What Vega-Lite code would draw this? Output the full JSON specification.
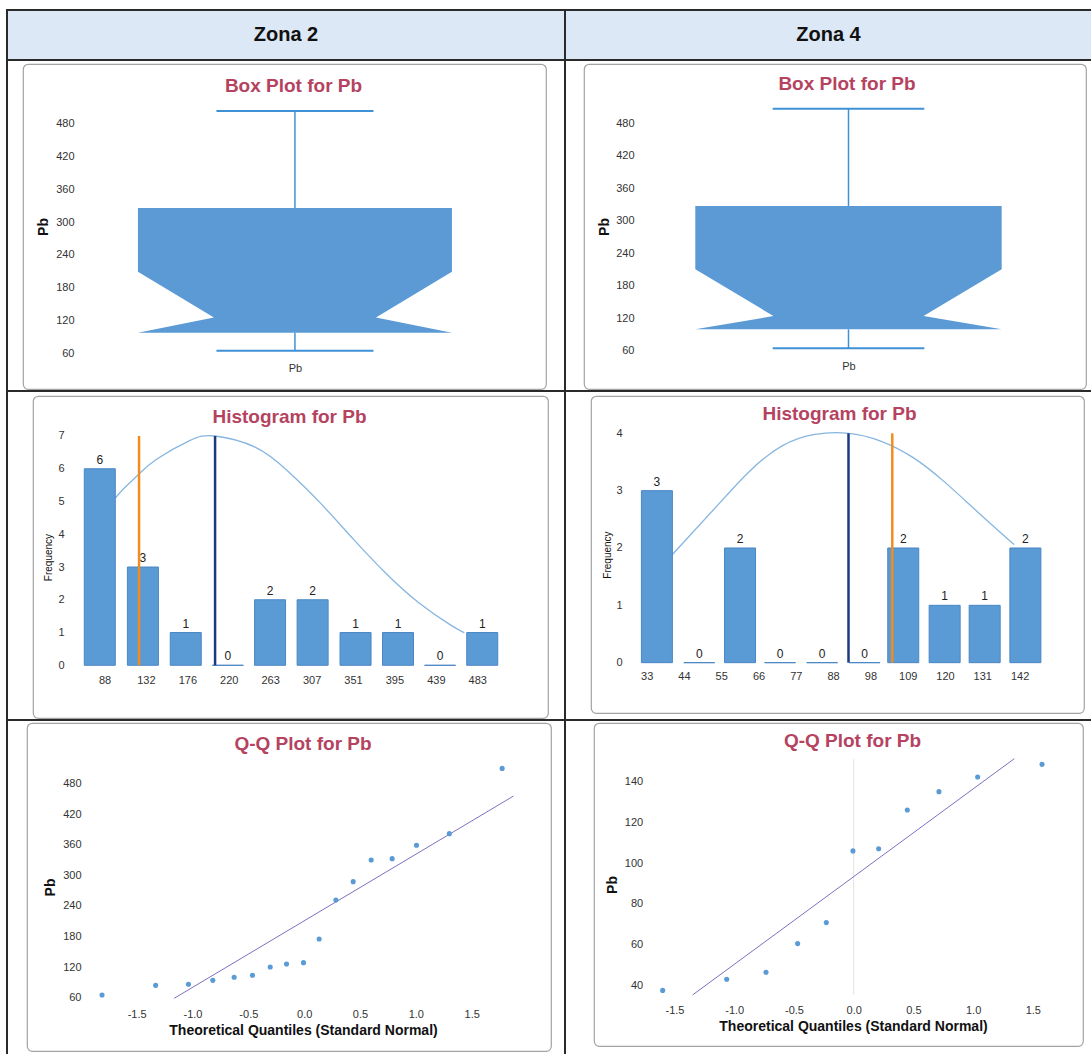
{
  "$schema": "https://vega.github.io/schema/vega-lite/v6.json",
  "padding": {"left": 6, "top": 9, "right": 0, "bottom": 0},
  "background": "white",
  "config": {
    "view": {"stroke": null},
    "locale": {"number": {"decimal": ".", "thousands": ",", "grouping": [3], "currency": ["$", ""], "minus": "-"}},
    "axis": {"grid": false, "domain": false, "ticks": false, "tickSize": 0, "labelFlush": false,
      "labelFont": "Liberation Sans Narrow, Liberation Sans, Arial", "labelFontSize": 11, "labelColor": "#333333",
      "titleFont": "Liberation Sans, Arial", "titleColor": "#111111"},
    "title": {"font": "Liberation Sans, Arial", "fontSize": 19, "fontWeight": "bold", "color": "#b5435f", "frame": "group", "anchor": "middle"}
  },
  "spacing": 0,
  "hconcat": [
    {"width": 2, "height": 1045, "data": {"values": []}, "mark": "point", "encoding": {}, "view": {"fill": "#2a2a2a", "stroke": null}},
    {
      "spacing": 0,
      "vconcat": [
        {"width": 556, "height": 2, "data": {"values": []}, "mark": "point", "encoding": {}, "view": {"fill": "#2a2a2a", "stroke": null}},
        {"width": 556, "height": 48, "view": {"fill": "#dce8f5", "stroke": null},
         "data": {"values": [{"zona": "Zona 2"}]},
         "mark": {"type": "text", "font": "Liberation Sans, Arial", "fontSize": 20, "fontWeight": "bold", "color": "#111111"},
         "encoding": {"text": {"field": "zona", "type": "nominal"}}},
        {"width": 556, "height": 2, "data": {"values": []}, "mark": "point", "encoding": {}, "view": {"fill": "#2a2a2a", "stroke": null}},
        {"spacing": 0, "hconcat": [
          {"width": 14, "height": 329, "data": {"values": []}, "mark": "point", "encoding": {}},
          {"spacing": 0, "vconcat": [
            {"width": 1, "height": 2, "data": {"values": []}, "mark": "point", "encoding": {}},
            {
              "width": 523, "height": 325,
              "view": {"fill": "white", "stroke": "#a3a3a3", "strokeWidth": 1.2, "cornerRadius": 5},
              "title": {"text": "Box Plot for Pb", "offset": -32, "dx": 9},
              "layer": [
                {"data": {"values": [{"pb": 97, "left": -1, "right": 1}, {"pb": 125, "left": -0.516, "right": 0.516}, {"pb": 209, "left": -1, "right": 1}, {"pb": 326, "left": -1, "right": 1}]},
                 "mark": {"type": "area", "orient": "horizontal", "color": "#5b9ad5", "opacity": 1},
                 "encoding": {
                   "y": {"field": "pb", "type": "quantitative", "scale": {"domain": [-6, 590], "nice": false, "zero": false},
                     "axis": {"values": [60, 120, 180, 240, 300, 360, 420, 480], "title": "Pb", "titleFontSize": 14, "titleFontWeight": "bold", "offset": -61, "labelPadding": 10, "minExtent": 27, "maxExtent": 27, "titlePadding": 7}},
                   "x": {"field": "left", "type": "quantitative", "scale": {"domain": [-1.732, 1.599], "nice": false, "zero": false},
                     "axis": {"values": [0], "labelExpr": "'Pb'", "title": null, "offset": -33, "labelPadding": 6}},
                   "x2": {"field": "right"}
                 }},
                {"data": {"values": [{"lo": 326, "hi": 504}, {"lo": 64, "hi": 97}]},
                 "mark": {"type": "rule", "color": "#3f91d6", "strokeWidth": 1.5},
                 "encoding": {"x": {"datum": 0, "type": "quantitative"}, "y": {"field": "lo", "type": "quantitative"}, "y2": {"field": "hi"}}},
                {"data": {"values": [{"pb": 504, "left": -0.5, "right": 0.5}, {"pb": 64, "left": -0.5, "right": 0.5}]},
                 "mark": {"type": "rule", "color": "#3f91d6", "strokeWidth": 2},
                 "encoding": {"y": {"field": "pb", "type": "quantitative"}, "x": {"field": "left", "type": "quantitative"}, "x2": {"field": "right"}}}
              ]
            }
          ]}
        ]},
        {"width": 556, "height": 2, "data": {"values": []}, "mark": "point", "encoding": {}, "view": {"fill": "#2a2a2a", "stroke": null}},
        {"spacing": 0, "hconcat": [
          {"width": 24, "height": 327, "data": {"values": []}, "mark": "point", "encoding": {}},
          {"spacing": 0, "vconcat": [
            {"width": 1, "height": 3, "data": {"values": []}, "mark": "point", "encoding": {}},
            {
              "width": 515, "height": 322,
              "view": {"fill": "white", "stroke": "#a3a3a3", "strokeWidth": 1.2, "cornerRadius": 5},
              "title": {"text": "Histogram for Pb", "offset": -31, "dx": -1},
              "layer": [
                {"data": {"values": [{"x": 99.1, "f": 5.1}, {"x": 108.8, "f": 5.41}, {"x": 124.4, "f": 5.84}, {"x": 143.4, "f": 6.3}, {"x": 178, "f": 6.86}, {"x": 205, "f": 7.0}, {"x": 247.4, "f": 6.66}, {"x": 282, "f": 5.93}, {"x": 316.7, "f": 4.95}, {"x": 351.3, "f": 3.86}, {"x": 386, "f": 2.81}, {"x": 420.6, "f": 1.92}, {"x": 455.3, "f": 1.22}, {"x": 469.2, "f": 1.0}]},
                 "mark": {"type": "line", "interpolate": "natural", "color": "#86b6e0", "strokeWidth": 1.3},
                 "encoding": {
                   "x": {"field": "x", "type": "quantitative", "scale": {"domain": [17.3, 552.6], "nice": false, "zero": false},
                     "axis": {"values": [87.8, 131.7, 175.6, 219.5, 263.4, 307.3, 351.2, 395.1, 439, 482.9], "format": ".0f", "title": null, "offset": -52.7, "labelPadding": 9}},
                   "y": {"field": "f", "type": "quantitative", "scale": {"domain": [-1.609, 8.221], "nice": false, "zero": false},
                     "axis": {"values": [0, 1, 2, 3, 4, 5, 6, 7], "format": ".0f", "title": "Frequency", "titleFontSize": 10, "titleFontWeight": "normal", "offset": -41, "labelPadding": 10, "minExtent": 16, "maxExtent": 16, "titlePadding": 5}}
                 }},
                {"data": {"values": [{"center": 82.8, "count": 6}, {"center": 128.5, "count": 3}, {"center": 173.9, "count": 1}, {"center": 218.6, "count": 0}, {"center": 263.3, "count": 2}, {"center": 308.4, "count": 2}, {"center": 353.9, "count": 1}, {"center": 398.9, "count": 1}, {"center": 443.5, "count": 0}, {"center": 488.2, "count": 1}]},
                 "layer": [
                   {"mark": {"type": "bar", "orient": "vertical", "width": 31, "color": "#5b9bd5", "stroke": "#4a86c4", "strokeWidth": 1},
                    "encoding": {"x": {"field": "center", "type": "quantitative"}, "y": {"field": "count", "type": "quantitative"}, "y2": {"datum": 0}}},
                   {"mark": {"type": "text", "baseline": "bottom", "dy": -2, "fontSize": 12, "font": "Liberation Sans Narrow, Liberation Sans, Arial", "color": "#222222"},
                    "encoding": {"x": {"field": "center", "type": "quantitative"}, "y": {"field": "count", "type": "quantitative"}, "text": {"field": "count", "type": "quantitative"}}}
                 ]},
                {"data": {"values": [{"x": 124.4, "lo": 0, "hi": 7}]},
                 "mark": {"type": "rule", "color": "#f28c1e", "strokeWidth": 2.5},
                 "encoding": {"x": {"field": "x", "type": "quantitative"}, "y": {"field": "lo", "type": "quantitative"}, "y2": {"field": "hi"}}},
                {"data": {"values": [{"x": 205, "lo": 0, "hi": 7}]},
                 "mark": {"type": "rule", "color": "#1d3a80", "strokeWidth": 2.5},
                 "encoding": {"x": {"field": "x", "type": "quantitative"}, "y": {"field": "lo", "type": "quantitative"}, "y2": {"field": "hi"}}}
              ]
            }
          ]}
        ]},
        {"width": 556, "height": 2, "data": {"values": []}, "mark": "point", "encoding": {}, "view": {"fill": "#2a2a2a", "stroke": null}},
        {"spacing": 0, "hconcat": [
          {"width": 18, "height": 333, "data": {"values": []}, "mark": "point", "encoding": {}},
          {"spacing": 0, "vconcat": [
            {"width": 1, "height": 1, "data": {"values": []}, "mark": "point", "encoding": {}},
            {
              "width": 524, "height": 328,
              "view": {"fill": "white", "stroke": "#a3a3a3", "strokeWidth": 1.2, "cornerRadius": 5},
              "title": {"text": "Q-Q Plot for Pb", "offset": -31, "dx": 14},
              "layer": [
                {"data": {"values": [{"q": -1.164, "pb": 58.7}, {"q": 1.875, "pb": 455.8}]},
                 "mark": {"type": "line", "color": "#7a72c0", "strokeWidth": 1},
                 "encoding": {
                   "x": {"field": "q", "type": "quantitative", "scale": {"domain": [-2.482, 2.2104], "nice": false, "zero": false},
                     "axis": {"values": [-1.5, -1, -0.5, 0, 0.5, 1, 1.5], "format": ".1f", "offset": -51.7, "labelPadding": 9, "title": "Theoretical Quantiles (Standard Normal)", "titleFontSize": 14, "titleFontWeight": "bold", "titlePadding": 4, "titleX": 276}},
                   "y": {"field": "pb", "type": "quantitative", "scale": {"domain": [-44.67, 599.07], "nice": false, "zero": false},
                     "axis": {"values": [60, 120, 180, 240, 300, 360, 420, 480], "title": "Pb", "titleFontSize": 14, "titleFontWeight": "bold", "offset": -64, "labelPadding": 10, "minExtent": 27, "maxExtent": 27, "titlePadding": 7}}
                 }},
                {"data": {"values": [{"q": -1.81, "pb": 65.2}, {"q": -1.33, "pb": 84.2}, {"q": -1.036, "pb": 86.2}, {"q": -0.818, "pb": 94}, {"q": -0.627, "pb": 100}, {"q": -0.463, "pb": 104}, {"q": -0.304, "pb": 120.2}, {"q": -0.158, "pb": 126}, {"q": -0.006, "pb": 128.7}, {"q": 0.134, "pb": 175}, {"q": 0.284, "pb": 251.7}, {"q": 0.439, "pb": 287.7}, {"q": 0.6, "pb": 330.2}, {"q": 0.788, "pb": 332.8}, {"q": 1.006, "pb": 359}, {"q": 1.3, "pb": 381.9}, {"q": 1.773, "pb": 510}]},
                 "mark": {"type": "circle", "color": "#5b9bd5", "size": 26, "opacity": 1},
                 "encoding": {"x": {"field": "q", "type": "quantitative"}, "y": {"field": "pb", "type": "quantitative"}}}
              ]
            }
          ]}
        ]}
      ]
    },
    {"width": 2, "height": 1045, "data": {"values": []}, "mark": "point", "encoding": {}, "view": {"fill": "#2a2a2a", "stroke": null}},
    {
      "spacing": 0,
      "vconcat": [
        {"width": 525, "height": 2, "data": {"values": []}, "mark": "point", "encoding": {}, "view": {"fill": "#2a2a2a", "stroke": null}},
        {"width": 525, "height": 48, "view": {"fill": "#dce8f5", "stroke": null},
         "data": {"values": [{"zona": "Zona 4"}]},
         "mark": {"type": "text", "font": "Liberation Sans, Arial", "fontSize": 20, "fontWeight": "bold", "color": "#111111"},
         "encoding": {"text": {"field": "zona", "type": "nominal"}}},
        {"width": 525, "height": 2, "data": {"values": []}, "mark": "point", "encoding": {}, "view": {"fill": "#2a2a2a", "stroke": null}},
        {"spacing": 0, "hconcat": [
          {"width": 17, "height": 329, "data": {"values": []}, "mark": "point", "encoding": {}},
          {"spacing": 0, "vconcat": [
            {"width": 1, "height": 2, "data": {"values": []}, "mark": "point", "encoding": {}},
            {
              "width": 502, "height": 325,
              "view": {"fill": "white", "stroke": "#a3a3a3", "strokeWidth": 1.2, "cornerRadius": 5},
              "title": {"text": "Box Plot for Pb", "offset": -30, "dx": 12},
              "layer": [
                {"data": {"values": [{"pb": 100, "left": -1, "right": 1}, {"pb": 124.5, "left": -0.49, "right": 0.49}, {"pb": 211, "left": -1, "right": 1}, {"pb": 327.5, "left": -1, "right": 1}]},
                 "mark": {"type": "area", "orient": "horizontal", "color": "#5b9ad5", "opacity": 1},
                 "encoding": {
                   "y": {"field": "pb", "type": "quantitative", "scale": {"domain": [-10.1, 589.4], "nice": false, "zero": false},
                     "axis": {"values": [60, 120, 180, 240, 300, 360, 420, 480], "title": "Pb", "titleFontSize": 14, "titleFontWeight": "bold", "offset": -60, "labelPadding": 10, "minExtent": 26, "maxExtent": 26, "titlePadding": 7}},
                   "x": {"field": "left", "type": "quantitative", "scale": {"domain": [-1.7265, 1.5503], "nice": false, "zero": false},
                     "axis": {"values": [0], "labelExpr": "'Pb'", "title": null, "offset": -36, "labelPadding": 7}},
                   "x2": {"field": "right"}
                 }},
                {"data": {"values": [{"lo": 327.5, "hi": 507}, {"lo": 65, "hi": 100}]},
                 "mark": {"type": "rule", "color": "#3f91d6", "strokeWidth": 1.5},
                 "encoding": {"x": {"datum": 0, "type": "quantitative"}, "y": {"field": "lo", "type": "quantitative"}, "y2": {"field": "hi"}}},
                {"data": {"values": [{"pb": 507, "left": -0.495, "right": 0.495}, {"pb": 65, "left": -0.495, "right": 0.495}]},
                 "mark": {"type": "rule", "color": "#3f91d6", "strokeWidth": 2},
                 "encoding": {"y": {"field": "pb", "type": "quantitative"}, "x": {"field": "left", "type": "quantitative"}, "x2": {"field": "right"}}}
              ]
            }
          ]}
        ]},
        {"width": 525, "height": 2, "data": {"values": []}, "mark": "point", "encoding": {}, "view": {"fill": "#2a2a2a", "stroke": null}},
        {"spacing": 0, "hconcat": [
          {"width": 24, "height": 327, "data": {"values": []}, "mark": "point", "encoding": {}},
          {"spacing": 0, "vconcat": [
            {"width": 1, "height": 3, "data": {"values": []}, "mark": "point", "encoding": {}},
            {
              "width": 493, "height": 317,
              "view": {"fill": "white", "stroke": "#a3a3a3", "strokeWidth": 1.2, "cornerRadius": 5},
              "title": {"text": "Histogram for Pb", "offset": -28, "dx": 2},
              "layer": [
                {"data": {"values": [{"x": 40.6, "f": 1.89}, {"x": 53.5, "f": 2.73}, {"x": 63.1, "f": 3.34}, {"x": 72.6, "f": 3.78}, {"x": 82.2, "f": 3.98}, {"x": 92, "f": 4.0}, {"x": 101.2, "f": 3.87}, {"x": 110.8, "f": 3.58}, {"x": 120.3, "f": 3.14}, {"x": 129.9, "f": 2.62}, {"x": 140.4, "f": 2.06}]},
                 "mark": {"type": "line", "interpolate": "natural", "color": "#86b6e0", "strokeWidth": 1.3},
                 "encoding": {
                   "x": {"field": "x", "type": "quantitative", "scale": {"domain": [18.2, 159.37], "nice": false, "zero": false},
                     "axis": {"values": [33, 43.9, 54.8, 65.7, 76.6, 87.5, 98.4, 109.3, 120.2, 131.1, 142], "format": ".0f", "title": null, "offset": -50.3, "labelPadding": 8}},
                   "y": {"field": "f", "type": "quantitative", "scale": {"domain": [-0.878, 4.651], "nice": false, "zero": false},
                     "axis": {"values": [0, 1, 2, 3, 4], "format": ".0f", "title": "Frequency", "titleFontSize": 10, "titleFontWeight": "normal", "offset": -40, "labelPadding": 9, "minExtent": 15, "maxExtent": 15, "titlePadding": 4}}
                 }},
                {"data": {"values": [{"center": 36.0, "count": 3}, {"center": 48.4, "count": 0}, {"center": 60.3, "count": 2}, {"center": 72.0, "count": 0}, {"center": 84.3, "count": 0}, {"center": 96.7, "count": 0}, {"center": 108.0, "count": 2}, {"center": 120.1, "count": 1}, {"center": 131.8, "count": 1}, {"center": 143.7, "count": 2}]},
                 "layer": [
                   {"mark": {"type": "bar", "orient": "vertical", "width": 31, "color": "#5b9bd5", "stroke": "#4a86c4", "strokeWidth": 1},
                    "encoding": {"x": {"field": "center", "type": "quantitative"}, "y": {"field": "count", "type": "quantitative"}, "y2": {"datum": 0}}},
                   {"mark": {"type": "text", "baseline": "bottom", "dy": -2, "fontSize": 12, "font": "Liberation Sans Narrow, Liberation Sans, Arial", "color": "#222222"},
                    "encoding": {"x": {"field": "center", "type": "quantitative"}, "y": {"field": "count", "type": "quantitative"}, "text": {"field": "count", "type": "quantitative"}}}
                 ]},
                {"data": {"values": [{"x": 104.8, "lo": 0, "hi": 4}]},
                 "mark": {"type": "rule", "color": "#f28c1e", "strokeWidth": 2.5},
                 "encoding": {"x": {"field": "x", "type": "quantitative"}, "y": {"field": "lo", "type": "quantitative"}, "y2": {"field": "hi"}}},
                {"data": {"values": [{"x": 92.0, "lo": 0, "hi": 4}]},
                 "mark": {"type": "rule", "color": "#1d3a80", "strokeWidth": 2.5},
                 "encoding": {"x": {"field": "x", "type": "quantitative"}, "y": {"field": "lo", "type": "quantitative"}, "y2": {"field": "hi"}}}
              ]
            }
          ]}
        ]},
        {"width": 525, "height": 2, "data": {"values": []}, "mark": "point", "encoding": {}, "view": {"fill": "#2a2a2a", "stroke": null}},
        {"spacing": 0, "hconcat": [
          {"width": 27, "height": 333, "data": {"values": []}, "mark": "point", "encoding": {}},
          {"spacing": 0, "vconcat": [
            {"width": 1, "height": 1, "data": {"values": []}, "mark": "point", "encoding": {}},
            {
              "width": 489, "height": 323,
              "view": {"fill": "white", "stroke": "#a3a3a3", "strokeWidth": 1.2, "cornerRadius": 5},
              "title": {"text": "Q-Q Plot for Pb", "offset": -28, "dx": 14},
              "layer": [
                {"data": {"values": [{"q": 0, "lo": 35.3, "hi": 151}]},
                 "mark": {"type": "rule", "color": "#e2e2e2", "strokeWidth": 1},
                 "encoding": {
                   "x": {"field": "q", "type": "quantitative", "scale": {"domain": [-2.174, 1.92], "nice": false, "zero": false},
                     "axis": {"values": [-1.5, -1, -0.5, 0, 0.5, 1, 1.5], "format": ".1f", "offset": -51, "labelPadding": 9, "title": "Theoretical Quantiles (Standard Normal)", "titleFontSize": 14, "titleFontWeight": "bold", "titlePadding": 4, "titleX": 259}},
                   "y": {"field": "lo", "type": "quantitative", "scale": {"domain": [10.21, 168.81], "nice": false, "zero": false},
                     "axis": {"values": [40, 60, 80, 100, 120, 140], "title": "Pb", "titleFontSize": 14, "titleFontWeight": "bold", "offset": -58.7, "labelPadding": 10, "minExtent": 26, "maxExtent": 26, "titlePadding": 7}},
                   "y2": {"field": "hi"}
                 }},
                {"data": {"values": [{"q": -1.348, "pb": 35.3}, {"q": 1.345, "pb": 151.3}]},
                 "mark": {"type": "line", "color": "#7a72c0", "strokeWidth": 1},
                 "encoding": {"x": {"field": "q", "type": "quantitative"}, "y": {"field": "pb", "type": "quantitative"}}},
                {"data": {"values": [{"q": -1.599, "pb": 37.5}, {"q": -1.063, "pb": 42.95}, {"q": -0.734, "pb": 46.4}, {"q": -0.469, "pb": 60.5}, {"q": -0.229, "pb": 70.8}, {"q": -0.006, "pb": 106}, {"q": 0.209, "pb": 107.1}, {"q": 0.449, "pb": 126.1}, {"q": 0.714, "pb": 135.1}, {"q": 1.038, "pb": 142.3}, {"q": 1.577, "pb": 148.5}]},
                 "mark": {"type": "circle", "color": "#5b9bd5", "size": 26, "opacity": 1},
                 "encoding": {"x": {"field": "q", "type": "quantitative"}, "y": {"field": "pb", "type": "quantitative"}}}
              ]
            }
          ]}
        ]}
      ]
    }
  ]
}
